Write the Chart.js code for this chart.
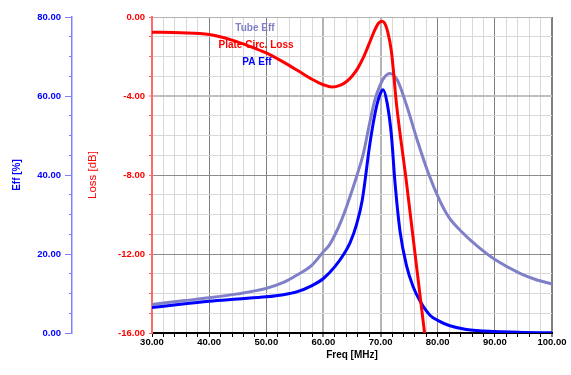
<!DOCTYPE html>
<html><head><meta charset="utf-8">
<script src="https://cdn.jsdelivr.net/npm/chart.js@4"></script>
<style>html,body{margin:0;padding:0;background:#fff;overflow:hidden}</style>
</head><body>
<canvas id="c" width="571" height="375"></canvas>
<script>
// ---- data ----
const lossFreq = [30, 35, 40, 44, 47, 50, 52, 54, 56, 58, 60, 61.5, 63, 64, 65, 66, 67, 68, 69, 69.6, 70.2, 70.7, 71.2, 71.9, 72.8, 74.5, 76.2, 77.7];
const lossDb   = [-0.77, -0.80, -0.89, -1.17, -1.47, -1.82, -2.12, -2.45, -2.8, -3.15, -3.43, -3.55, -3.45, -3.28, -3.0, -2.6, -2.05, -1.35, -0.65, -0.33, -0.21, -0.3, -0.7, -1.75, -4.45, -8.3, -12.4, -16.0];

const tubeFreq = [30, 35, 40, 45, 50, 53, 55.3, 58, 60, 61, 62, 63, 64, 65, 66, 67, 68, 69, 70, 70.6, 71.6, 72.9, 74.6, 76.4, 78.4, 80.4, 82, 84, 87.4, 90, 94.4, 97, 100];
const tubeEff  = [7.2, 8.1, 8.9, 9.9, 11.3, 12.8, 14.6, 17.2, 20.6, 22.2, 24.8, 28, 31.8, 36, 40.5, 45.5, 52.5, 59, 63, 64.6, 65.7, 64.1, 57.4, 48.9, 40.3, 33.4, 29.2, 25.9, 21.4, 18.6, 15.1, 13.6, 12.4];

const paFreq = [30, 35, 40, 45, 50, 53, 55.3, 58, 60, 62, 63.5, 64.65, 65.8, 66.8, 68.15, 69.3, 70.15, 70.45, 71.15, 71.9, 72.5, 73.4, 74.55, 75.7, 76.9, 78.65, 80, 82, 85, 90, 95, 100];
const paEff  = [6.45, 7.3, 8.05, 8.6, 9.15, 9.7, 10.4, 12.0, 13.8, 16.8, 19.8, 22.8, 27.5, 33.7, 48.1, 57.4, 61.2, 61.6, 58.2, 50.0, 38.5, 25.8, 17.0, 11.7, 8.1, 4.5, 3.2, 1.9, 0.9, 0.35, 0.15, 0.05];

const freqLabels = [30, 40, 50, 60, 70, 80, 90, 100];
const effLabels  = [0, 20, 40, 60, 80];
const lossLabels = [0, -4, -8, -12, -16];
const seriesNames = ['Tube Eff', 'Plate Circ. Loss', 'PA Eff'];
const axisTitles = ['Freq [MHz]', 'Eff [%]', 'Loss [dB]'];

// ---- styling ----
const FONT = "'Liberation Sans', Arial, sans-serif";
Chart.defaults.font.family = FONT;
const TUBE_COLOR = '#8080c8';
const LOSS_COLOR = '#ff0000';
const PA_COLOR = '#0000ff';

const pts = (xs, ys) => xs.map((x, i) => ({x: x, y: ys[i]}));

const inlineLabels = {
  id: 'inlineLabels',
  afterDatasetsDraw(chart) {
    const ctx = chart.ctx;
    const spots = [
      {t: seriesNames[0], c: TUBE_COLOR, x: 255, y: 28},
      {t: seriesNames[1], c: LOSS_COLOR, x: 256, y: 45},
      {t: seriesNames[2], c: PA_COLOR, x: 257, y: 62}
    ];
    ctx.save();
    ctx.font = 'bold 10px ' + FONT;
    ctx.textAlign = 'center';
    ctx.textBaseline = 'middle';
    spots.forEach(s => { ctx.fillStyle = s.c; ctx.fillText(s.t, s.x, s.y); });
    ctx.restore();
  }
};

const lineStyle = {borderWidth: 3, pointRadius: 0, cubicInterpolationMode: 'monotone', fill: false};

new Chart(document.getElementById('c'), {
  type: 'line',
  data: {
    datasets: [
      Object.assign({label: seriesNames[1], data: pts(lossFreq, lossDb), yAxisID: 'loss', borderColor: LOSS_COLOR, order: 0}, lineStyle),
      Object.assign({label: seriesNames[2], data: pts(paFreq, paEff), yAxisID: 'eff', borderColor: PA_COLOR, order: 1}, lineStyle),
      Object.assign({label: seriesNames[0], data: pts(tubeFreq, tubeEff), yAxisID: 'eff', borderColor: TUBE_COLOR, order: 2}, lineStyle)
    ]
  },
  options: {
    responsive: false,
    animation: false,
    devicePixelRatio: 1,
    layout: {padding: {top: 17, right: 19, left: 0, bottom: 0}},
    plugins: {legend: {display: false}, tooltip: {enabled: false}},
    scales: {
      x: {
        type: 'linear', position: 'bottom', min: 30, max: 100,
        afterFit: s => { s.height = 42; },
        ticks: {
          stepSize: 2, autoSkip: false, maxRotation: 0, padding: 0,
          color: '#000', font: {size: 9.5, weight: 'bold'},
          callback: v => freqLabels.includes(v) ? v.toFixed(2) : ''
        },
        grid: {
          drawOnChartArea: true, drawTicks: true, tickLength: 4,
          color: c => {
            const v = c.tick ? c.tick.value : null;
            if (v === 30) return 'rgba(0,0,0,0)';
            if (v === 60 || v === 70) return '#b4b4b4';
            if (v % 10 === 0) return '#808080';
            return '#d8d8d8';
          },
          lineWidth: c => {
            const v = c.tick ? c.tick.value : null;
            if (v === 60 || v === 70 || v === 100) return 2;
            return 1;
          },
          tickColor: '#000', tickWidth: 1
        },
        border: {display: true, color: '#000', width: 2},
        title: {display: true, text: axisTitles[0], color: '#000', font: {size: 10, weight: 'bold'}, padding: {top: 0, bottom: 13.5}}
      },
      eff: {
        type: 'linear', position: 'left', weight: 2, min: 0, max: 80,
        afterFit: s => { s.width = 72; },
        ticks: {
          stepSize: 5, autoSkip: false, padding: 4,
          color: PA_COLOR, font: {size: 9.5, weight: 'bold'},
          callback: v => effLabels.includes(v) ? v.toFixed(2) : ''
        },
        grid: {
          drawOnChartArea: false, drawTicks: true, tickLength: 7,
          tickColor: '#8080ff', tickWidth: 1,
          tickBorderDash: c => (c.tick && effLabels.includes(c.tick.value)) ? [] : [0, 4, 3, 100]
        },
        border: {display: true, color: '#8080ff', width: 1.5},
        title: {display: true, text: axisTitles[1], color: PA_COLOR, font: {size: 10, weight: 'bold'}, padding: {top: 11.3, bottom: 0}}
      },
      loss: {
        type: 'linear', position: 'left', weight: 1, min: -16, max: 0,
        afterFit: s => { s.width = 80; },
        ticks: {
          stepSize: 1, autoSkip: false, padding: 4,
          color: LOSS_COLOR, font: {size: 9.5, weight: 'bold'},
          callback: v => lossLabels.includes(v) ? v.toFixed(2) : ''
        },
        grid: {
          drawOnChartArea: true, drawTicks: true, tickLength: 3,
          color: c => {
            const v = c.tick ? c.tick.value : null;
            if (v === -16) return 'rgba(0,0,0,0)';
            if (v === -8 || v === -12) return '#8c8c8c';
            if (v === -4) return '#c0c0c0';
            if (v === 0) return '#b4b4b4';
            return '#d8d8d8';
          },
          lineWidth: c => (c.tick && c.tick.value === -4) ? 2 : 1,
          tickColor: '#ff6060', tickWidth: 1
        },
        border: {display: true, color: '#ff6a6a', width: 2},
        title: {display: true, text: axisTitles[2], color: LOSS_COLOR, font: {size: 11.5, weight: 'normal'}, padding: {top: 14.4, bottom: 0}}
      }
    }
  },
  plugins: [inlineLabels]
});
</script>
</body></html>
